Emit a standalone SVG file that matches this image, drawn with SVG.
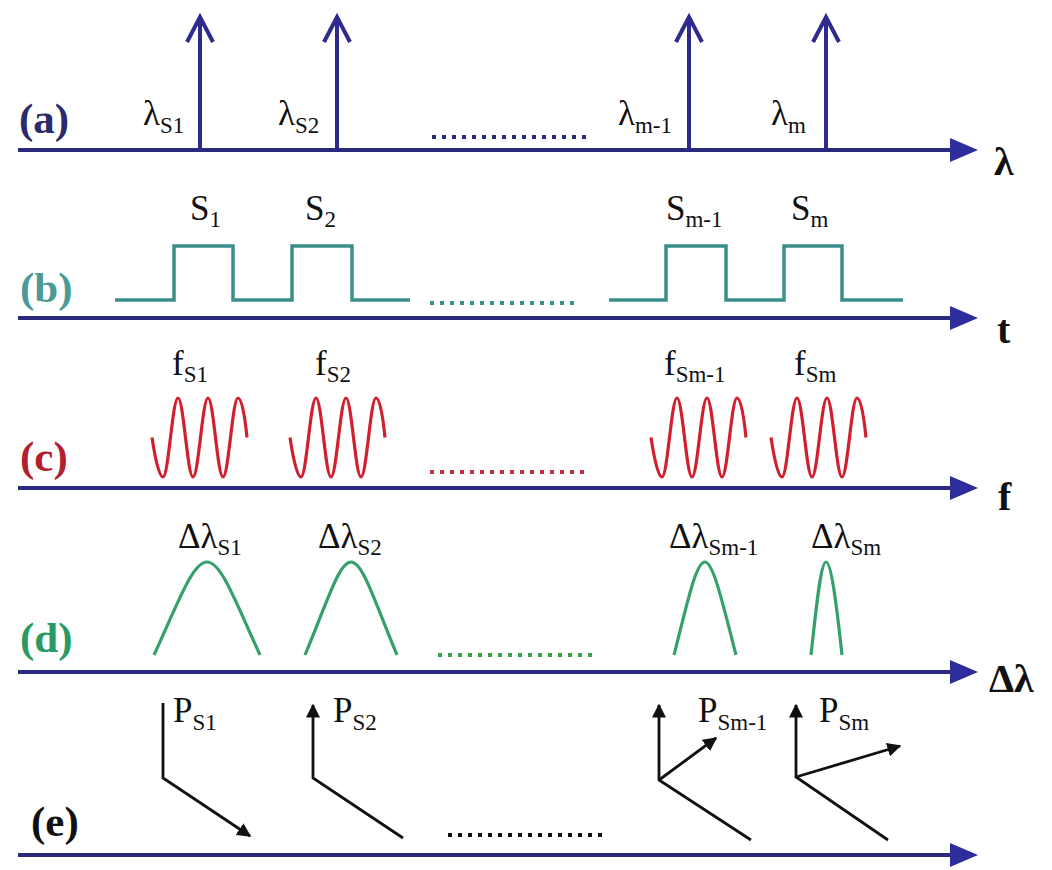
<svg xmlns="http://www.w3.org/2000/svg" width="1052" height="870" viewBox="0 0 1052 870">
<defs>
<style>
.axis{stroke:#2a2a7c;stroke-width:4;fill:none}
.ahead{fill:#2d2d9c}
.lbl{font-size:35px;fill:#111}
.sub{font-size:23px}
.tag{font-size:43px;font-weight:bold}
.axl{font-size:40px;font-weight:bold;fill:#111}
.spike{stroke:#2e2a8e;stroke-width:4;fill:none}
.sq{stroke:#3a8f8a;stroke-width:3.5;fill:none}
.sin{stroke:#d21f2e;stroke-width:3.2;fill:none}
.gau{stroke:#35a06c;stroke-width:3.2;fill:none}
.pol{stroke:#111;stroke-width:2.8;fill:none}
.dots{stroke-width:4;stroke-dasharray:4 6;fill:none}
</style>
<marker id="pa" viewBox="0 0 10 10" refX="9" refY="5" markerWidth="5" markerHeight="5" orient="auto" markerUnits="strokeWidth">
<path d="M0,0 L10,5 L0,10 z" fill="#111"/>
</marker>
<path id="wave" d="M0,0 C3,20 7,39.5 11,39.5 C16.5,39.5 20.5,-39.5 26,-39.5 C31.5,-39.5 35.5,39.5 41,39.5 C46.5,39.5 50.5,-39.5 56,-39.5 C61.5,-39.5 65.5,39.5 71,39.5 C76.5,39.5 80.5,-39.5 86,-39.5 C90,-39.5 93,-20 95,0"/>
</defs>
<rect width="1052" height="870" fill="#fff"/>
<g font-family="'Liberation Serif', serif">
<g id="axes">
<line class="axis" x1="18" y1="150" x2="955" y2="150"/><path class="ahead" d="M950,138 L978,150 L950,162 z"/>
<line class="axis" x1="18" y1="318" x2="955" y2="318"/><path class="ahead" d="M950,306 L978,318 L950,330 z"/>
<line class="axis" x1="18" y1="488" x2="955" y2="488"/><path class="ahead" d="M950,476 L978,488 L950,500 z"/>
<line class="axis" x1="18" y1="672" x2="955" y2="672"/><path class="ahead" d="M950,660 L978,672 L950,684 z"/>
<line class="axis" x1="18" y1="855" x2="955" y2="855"/><path class="ahead" d="M950,843 L978,855 L950,867 z"/>
<text class="axl" x="994" y="175">λ</text>
<text class="axl" x="997" y="343">t</text>
<text class="axl" x="998" y="510">f</text>
<text class="axl" x="989" y="692">Δλ</text>
</g>

<g id="row-a">
<text class="tag" x="19" y="133" fill="#2c2a6c">(a)</text>
<path class="spike" d="M200,150 V17 M187,42 L200,17 L213,42"/>
<path class="spike" d="M337,150 V17 M324,42 L337,17 L350,42"/>
<path class="spike" d="M689,150 V17 M676,42 L689,17 L702,42"/>
<path class="spike" d="M826,150 V17 M813,42 L826,17 L839,42"/>
<text class="lbl" x="143" y="125">λ<tspan class="sub" dy="8">S1</tspan></text>
<text class="lbl" x="278" y="125">λ<tspan class="sub" dy="8">S2</tspan></text>
<text class="lbl" x="618" y="125">λ<tspan class="sub" dy="8">m-1</tspan></text>
<text class="lbl" x="771" y="125">λ<tspan class="sub" dy="8">m</tspan></text>
<path class="dots" stroke="#2c2a7c" d="M432,137 H592"/>
</g>

<g id="row-b">
<text class="tag" x="20" y="302" fill="#4b9a98">(b)</text>
<path class="sq" d="M115,300 H174 V246 H233 V300 H292 V246 H352 V300 H410"/>
<path class="sq" d="M609,300 H666 V246 H726 V300 H784 V246 H842 V300 H903"/>
<text class="lbl" x="190" y="220">S<tspan class="sub" dy="7">1</tspan></text>
<text class="lbl" x="305" y="220">S<tspan class="sub" dy="7">2</tspan></text>
<text class="lbl" x="666" y="220">S<tspan class="sub" dy="7">m-1</tspan></text>
<text class="lbl" x="791" y="220">S<tspan class="sub" dy="7">m</tspan></text>
<path class="dots" stroke="#3a8f8a" d="M430,303 H578"/>
</g>

<g id="row-c">
<text class="tag" x="20" y="471" fill="#b0202e">(c)</text>
<use href="#wave" class="sin" x="152" y="437.5"/>
<use href="#wave" class="sin" x="290" y="437.5"/>
<use href="#wave" class="sin" x="651" y="437.5"/>
<use href="#wave" class="sin" x="771" y="437.5"/>
<text class="lbl" x="172" y="375">f<tspan class="sub" dy="7">S1</tspan></text>
<text class="lbl" x="315" y="375">f<tspan class="sub" dy="7">S2</tspan></text>
<text class="lbl" x="664" y="375">f<tspan class="sub" dy="7">Sm-1</tspan></text>
<text class="lbl" x="794" y="375">f<tspan class="sub" dy="7">Sm</tspan></text>
<path class="dots" stroke="#c03040" d="M430,472 H585"/>
</g>

<g id="row-d">
<text class="tag" x="20" y="652" fill="#2a9a62">(d)</text>
<path class="gau" d="M154,655 C180,598 193,562 207,562 C221,562 234,598 260,655"/>
<path class="gau" d="M305,655 C328,600 339,562 351,562 C363,562 374,600 397,655"/>
<path class="gau" d="M674,655 C688,600 696,562 705,562 C713,562 722,600 736,655"/>
<path class="gau" d="M811,655 C817,600 821,562 826,562 C831,562 836,600 842,655"/>
<text class="lbl" x="178" y="548">Δλ<tspan class="sub" dy="7">S1</tspan></text>
<text class="lbl" x="318" y="548">Δλ<tspan class="sub" dy="7">S2</tspan></text>
<text class="lbl" x="669" y="548">Δλ<tspan class="sub" dy="7">Sm-1</tspan></text>
<text class="lbl" x="811" y="548">Δλ<tspan class="sub" dy="7">Sm</tspan></text>
<path class="dots" stroke="#3aa04a" d="M438,655 H592"/>
</g>

<g id="row-e">
<text class="tag" x="31" y="836" fill="#111">(e)</text>
<path class="pol" d="M163,703 V778 L250,836" marker-end="url(#pa)"/>
<path class="pol" d="M403,838 L313,778 V705" marker-end="url(#pa)"/>
<path class="pol" d="M751,840 L659,780 V705" marker-end="url(#pa)"/>
<path class="pol" d="M659,780 L716,738" marker-end="url(#pa)"/>
<path class="pol" d="M888,840 L796,777 V705" marker-end="url(#pa)"/>
<path class="pol" d="M796,777 L900,746" marker-end="url(#pa)"/>
<text class="lbl" x="173" y="722">P<tspan class="sub" dy="8">S1</tspan></text>
<text class="lbl" x="333" y="722">P<tspan class="sub" dy="8">S2</tspan></text>
<text class="lbl" x="698" y="722">P<tspan class="sub" dy="8">Sm-1</tspan></text>
<text class="lbl" x="819" y="722">P<tspan class="sub" dy="8">Sm</tspan></text>
<path class="dots" stroke="#111" d="M448,835 H602"/>
</g>
</g>
</svg>
